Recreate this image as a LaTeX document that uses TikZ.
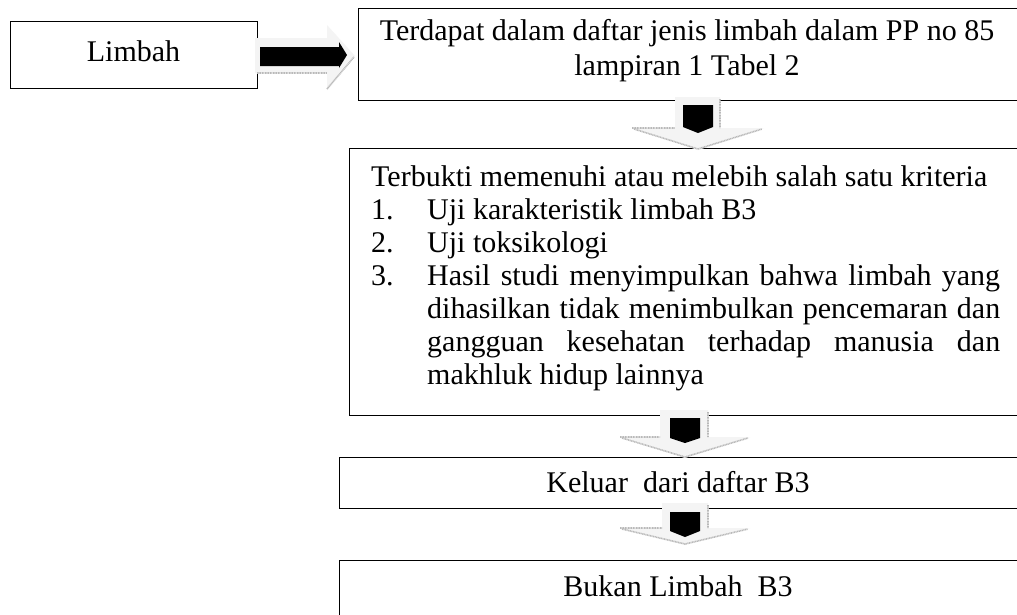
\documentclass[tikz,border=0pt]{standalone}
\usepackage{fontspec}
\setmainfont{Liberation Serif}
\begin{document}
\begin{tikzpicture}[x=1pt,y=-1pt,
  box/.style={draw=black, line width=1.4pt, fill=none, inner sep=0pt, anchor=north west},
  txt/.style={inner sep=0pt, font=\fontsize{30}{33}\selectfont},
  garrow/.style={fill=gray!9, draw=none},
  gshade/.style={draw=gray!55, line width=1.6pt, dash pattern=on 1pt off 0.6pt},
  barrow/.style={fill=black, draw=none}]
\useasboundingbox (0,0) rectangle (1017,614);
\fill[white] (0,0) rectangle (1017,614);
\clip (0,0) rectangle (1017,614);
% boxes
\node[box, minimum width=247pt, minimum height=67pt] (limbah) at (10,21) {};
\node[box, minimum width=665pt, minimum height=92pt] (terdapat) at (358,8) {};
\node[box, minimum width=675pt, minimum height=267pt] (terbukti) at (349,148) {};
\node[box, minimum width=685pt, minimum height=51pt] (keluar) at (339,457) {};
\node[box, minimum width=685pt, minimum height=80pt] (bukan) at (339,560) {};
% right block arrow
\path[garrow] (255,38) -- (327,38) -- (327,25) -- (355,56) -- (327,90) -- (327,73) -- (255,73) -- cycle;
\draw[gshade] (257,73) -- (327,73) (327,89) -- (354,57);
\path[barrow] (260,47) -- (339,47) -- (339,42) -- (347,55) -- (339,68) -- (339,66) -- (260,66) -- cycle;
% down arrow 1
\path[garrow] (675,97) -- (720,97) -- (720,128) -- (764,128) -- (698,150) -- (632,128) -- (675,128) -- cycle;
\draw[gshade] (720,99) -- (720,128) (632,128) -- (675,128) (634,129) -- (698,149) -- (762,129);
\path[barrow] (683,105) -- (713,105) -- (713,127) -- (698,133) -- (683,127) -- cycle;
% down arrow 2
\path[garrow] (660,410) -- (708,410) -- (708,437) -- (750,437) -- (685,458) -- (620,437) -- (660,437) -- cycle;
\draw[gshade] (708,412) -- (708,437) (620,437) -- (660,437) (622,438) -- (685,457) -- (748,438);
\path[barrow] (670,418) -- (700,418) -- (700,438) -- (685,443) -- (670,438) -- cycle;
% down arrow 3
\path[garrow] (662,503) -- (708,503) -- (708,528) -- (750,528) -- (685,545) -- (620,528) -- (662,528) -- cycle;
\draw[gshade] (708,505) -- (708,528) (620,528) -- (662,528) (622,529) -- (685,544) -- (748,529);
\path[barrow] (670,512) -- (700,512) -- (700,531) -- (685,537) -- (670,531) -- cycle;
% texts
\node[txt, anchor=base] (tlimbah) at (133.5,61) {Limbah};
\node[txt, anchor=north, align=center, font=\fontsize{30}{35}\selectfont] (tterdapat) at (687,19.5) {Terdapat dalam daftar jenis limbah dalam PP no 85\\lampiran 1 Tabel 2};
\node[txt, anchor=north west, text width=629pt, align=justify] (tterbukti) at (371,165.5) {%
\noindent Terbukti memenuhi atau melebih salah satu kriteria\par
\noindent\makebox[56pt][l]{1.}Uji karakteristik limbah B3\par
\noindent\makebox[56pt][l]{2.}Uji toksikologi\par
\noindent\hangindent=56pt \hangafter=1 \makebox[56pt][l]{3.}Hasil studi menyimpulkan bahwa limbah yang\linebreak dihasilkan tidak menimbulkan pencemaran dan\linebreak gangguan kesehatan terhadap manusia dan\linebreak makhluk hidup lainnya\par};
\node[txt, anchor=base] (tkeluar) at (678,492) {Keluar\ \ dari daftar B3};
\node[txt, anchor=base] (tbukan) at (678,596) {Bukan Limbah\ \ B3};
\end{tikzpicture}
\end{document}
